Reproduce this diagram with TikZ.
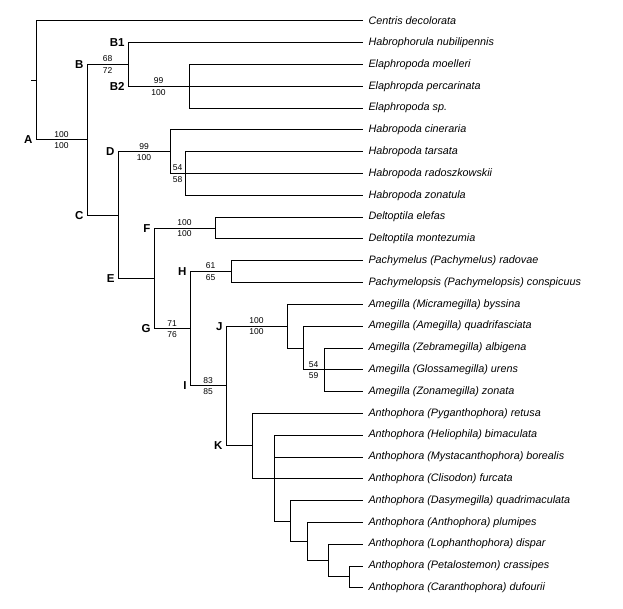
\documentclass[tikz,border=0pt]{standalone}
\usepackage{fontspec}
\setmainfont{Liberation Sans}
\begin{document}
\begin{tikzpicture}[x=1pt,y=-21.8pt,line width=1pt,
    taxon/.style={anchor=west,inner xsep=5pt,inner ysep=0pt,font=\fontsize{10.8}{13}\selectfont\itshape},
    clade/.style={anchor=east,inner sep=0pt,xshift=-3pt,font=\fontsize{11.5}{13}\selectfont\bfseries},
    boot/.style={inner sep=0pt,pos=0.75,font=\fontsize{8.5}{10}\selectfont},
    bootup/.style={boot,above=2.2pt},
    bootdn/.style={boot,below=2.2pt}]
  \useasboundingbox (0,-0.963) rectangle (623,26.972);

  % TAXA
  \node[taxon] (cen)  at (363,0)  {Centris decolorata};
  \node[taxon] (hnub) at (363,1)  {Habrophorula nubilipennis};
  \node[taxon] (emoe) at (363,2)  {Elaphropoda moelleri};
  \node[taxon] (eper) at (363,3)  {Elaphropda percarinata};
  \node[taxon] (esp)  at (363,4)  {Elaphropoda sp.};
  \node[taxon] (hcin) at (363,5)  {Habropoda cineraria};
  \node[taxon] (htar) at (363,6)  {Habropoda tarsata};
  \node[taxon] (hrad) at (363,7)  {Habropoda radoszkowskii};
  \node[taxon] (hzon) at (363,8)  {Habropoda zonatula};
  \node[taxon] (dele) at (363,9)  {Deltoptila elefas};
  \node[taxon] (dmon) at (363,10) {Deltoptila montezumia};
  \node[taxon] (prad) at (363,11) {Pachymelus (Pachymelus) radovae};
  \node[taxon] (pcon) at (363,12) {Pachymelopsis (Pachymelopsis) conspicuus};
  \node[taxon] (abys) at (363,13) {Amegilla (Micramegilla) byssina};
  \node[taxon] (aqua) at (363,14) {Amegilla (Amegilla) quadrifasciata};
  \node[taxon] (aalb) at (363,15) {Amegilla (Zebramegilla) albigena};
  \node[taxon] (aure) at (363,16) {Amegilla (Glossamegilla) urens};
  \node[taxon] (azon) at (363,17) {Amegilla (Zonamegilla) zonata};
  \node[taxon] (aret) at (363,18) {Anthophora (Pyganthophora) retusa};
  \node[taxon] (abim) at (363,19) {Anthophora (Heliophila) bimaculata};
  \node[taxon] (abor) at (363,20) {Anthophora (Mystacanthophora) borealis};
  \node[taxon] (afur) at (363,21) {Anthophora (Clisodon) furcata};
  \node[taxon] (aqmc) at (363,22) {Anthophora (Dasymegilla) quadrimaculata};
  \node[taxon] (aplu) at (363,23) {Anthophora (Anthophora) plumipes};
  \node[taxon] (adis) at (363,24) {Anthophora (Lophanthophora) dispar};
  \node[taxon] (acra) at (363,25) {Anthophora (Petalostemon) crassipes};
  \node[taxon] (aduf) at (363,26) {Anthophora (Caranthophora) dufourii};

  % SPLITS
  \coordinate (stub) at (31,2.726);
  \coordinate (root) at (36,2.726);
  \coordinate (A)  at (87,5.45);
  \coordinate (B)  at (128,2);
  \coordinate (B2) at (189,3);
  \coordinate (C)  at (118,8.905);
  \coordinate (D)  at (170,6);
  \coordinate (D2) at (185,7);
  \coordinate (E)  at (154,11.81);
  \coordinate (F)  at (215,9.5);
  \coordinate (G)  at (190,14.12);
  \coordinate (H)  at (231,11.5);
  \coordinate (I)  at (226,16.74);
  \coordinate (J)  at (287,14);
  \coordinate (J2) at (303,15);
  \coordinate (J3) at (324,16);
  \coordinate (K)  at (252,19.48);
  \coordinate (K2) at (274,20.97);
  \coordinate (K3) at (290,22.94);
  \coordinate (K4) at (307,23.875);
  \coordinate (K5) at (328,24.75);
  \coordinate (K6) at (349,25.5);

  % CLADE LETTERS
  \node[clade] (lA)  at (root |- A) {A};
  \node[clade] (lB)  at (A |- B)    {B};
  \node[clade] (lB1) at (B |- hnub) {B1};
  \node[clade] (lB2) at (B |- B2)   {B2};
  \node[clade] (lC)  at (A |- C)    {C};
  \node[clade] (lD)  at (C |- D)    {D};
  \node[clade] (lE)  at (C |- E)    {E};
  \node[clade] (lF)  at (E |- F)    {F};
  \node[clade] (lG)  at (E |- G)    {G};
  \node[clade] (lH)  at (G |- H)    {H};
  \node[clade] (lI)  at (G |- I)    {I};
  \node[clade] (lJ)  at (I |- J)    {J};
  \node[clade] (lK)  at (I |- K)    {K};

  % BRANCHES
  \draw (stub) -- (root);
  \draw (root) |- (cen.west);
  \draw (root) |- (A) node[bootup] (sA1) {100} node[bootdn] (sA2) {100};
  % B
  \draw (A) |- (B) node[bootup] (sB1) {68} node[bootdn] (sB2) {72};
  \draw (B) |- (hnub.west);
  \draw (B) |- (B2) node[bootup] (sBB1) {99} node[bootdn] (sBB2) {100};
  \draw (B2) |- (emoe.west);
  \draw (B2) |- (eper.west);
  \draw (B2) |- (esp.west);
  % C
  \draw (A) |- (C);
  \draw (C) |- (D) node[bootup] (sD1) {99} node[bootdn] (sD2) {100};
  \draw (D) |- (hcin.west);
  \draw (D) |- (D2) node[bootup] (sDD1) {54} node[bootdn] (sDD2) {58};
  \draw (D2) |- (htar.west);
  \draw (D2) |- (hrad.west);
  \draw (D2) |- (hzon.west);
  % E
  \draw (C) |- (E);
  \draw (E) |- (F) node[bootup] (sF1) {100} node[bootdn] (sF2) {100};
  \draw (F) |- (dele.west);
  \draw (F) |- (dmon.west);
  \draw (E) |- (G) node[bootup] (sG1) {71} node[bootdn] (sG2) {76};
  \draw (G) |- (H) node[bootup] (sH1) {61} node[bootdn] (sH2) {65};
  \draw (H) |- (prad.west);
  \draw (H) |- (pcon.west);
  \draw (G) |- (I) node[bootup] (sI1) {83} node[bootdn] (sI2) {85};
  % J
  \draw (I) |- (J) node[bootup] (sJ1) {100} node[bootdn] (sJ2) {100};
  \draw (J) |- (abys.west);
  \draw (J) |- (J2);
  \draw (J2) |- (aqua.west);
  \draw (J2) |- (J3) node[bootup] (sJJ1) {54} node[bootdn] (sJJ2) {59};
  \draw (J3) |- (aalb.west);
  \draw (J3) |- (aure.west);
  \draw (J3) |- (azon.west);
  % K
  \draw (I) |- (K);
  \draw (K) |- (aret.west);
  \draw (K) |- (K2);
  \draw (K2) |- (abim.west);
  \draw (K2) |- (abor.west);
  \draw (K2) |- (afur.west);
  \draw (K2) |- (K3);
  \draw (K3) |- (aqmc.west);
  \draw (K3) |- (K4);
  \draw (K4) |- (aplu.west);
  \draw (K4) |- (K5);
  \draw (K5) |- (adis.west);
  \draw (K5) |- (K6);
  \draw (K6) |- (acra.west);
  \draw (K6) |- (aduf.west);
\end{tikzpicture}
\end{document}
